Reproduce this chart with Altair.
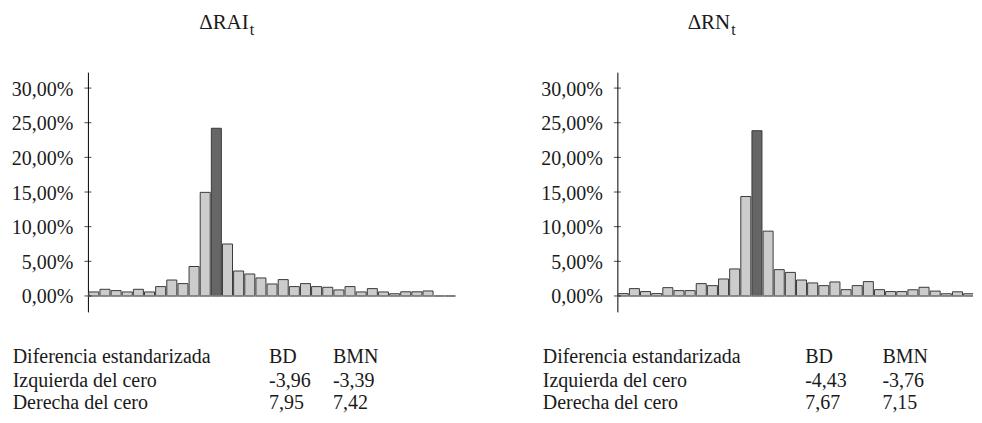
import altair as alt
import pandas as pd

# ---- data ----
rai_pct = [0.58, 0.96, 0.77, 0.58, 0.96, 0.58, 1.35, 2.30, 1.78, 4.25, 14.95, 24.2,
           7.5, 3.6, 3.17, 2.6, 1.73, 2.36, 1.35, 1.78, 1.35, 1.25, 0.87, 1.35,
           0.58, 1.06, 0.58, 0.32, 0.6, 0.6, 0.72, 0.0, 0.0]
rn_pct = [0.34, 1.06, 0.63, 0.34, 1.2, 0.77, 0.77, 1.78, 1.49, 2.45, 3.9, 14.35,
          23.85, 9.35, 3.8, 3.4, 2.3, 1.88, 1.49, 2.02, 0.91, 1.49, 2.07, 0.91,
          0.63, 0.63, 0.89, 1.25, 0.7, 0.32, 0.6, 0.32, 0.0]
rai_peak_bin = 12
rn_peak_bin = 13
y_ticks = [0, 5, 10, 15, 20, 25, 30]

titles = ["\u0394RAI", "\u0394RN"]
title_sub = "t"
table_header = ["Diferencia estandarizada", "BD", "BMN"]
row_labels = ["Izquierda del cero", "Derecha del cero"]
rai_bd = ["-3,96", "7,95"]
rai_bmn = ["-3,39", "7,42"]
rn_bd = ["-4,43", "7,67"]
rn_bmn = ["-3,76", "7,15"]

FONT = "Liberation Serif"
FS = 20
TXT = "#1a1a1a"
PLOT_H = 240
Y_DOM = [-2.3, 32.3]

Y_AXIS = alt.Axis(
    values=y_ticks, ticks=False, tickSize=0, grid=False, title=None,
    labelExpr="replace(format(datum.value, '.2f'), '.', ',') + '%'",
    domainColor="black", domainWidth=1,
    labelFont=FONT, labelFontSize=FS, labelColor=TXT,
    labelPadding=15, labelOffset=1, minExtent=80, maxExtent=80,
)


def txt(s, x, y, size=FS, align="left"):
    return alt.Chart(pd.DataFrame({"t": [s]})).mark_text(
        align=align, baseline="alphabetic", font=FONT, fontSize=size, color=TXT
    ).encode(text="t:N", x=alt.value(x), y=alt.value(y))


def panel(values, peak, title, bd, bmn, width, x_max, title_end, cols):
    df = pd.DataFrame({"bin": list(range(1, len(values) + 1)), "pct": values})
    df["x0"] = df["bin"] - 1 + 0.08
    df["x1"] = df["bin"] - 0.02
    df["peak"] = df["bin"] == peak
    xs = alt.Scale(domain=[0, x_max], nice=False, zero=False)
    ys = alt.Scale(domain=Y_DOM, nice=False, zero=False)

    bars = alt.Chart(df).mark_bar(stroke="#3a3a3a", strokeWidth=1, clip=True).encode(
        x=alt.X("x0:Q", scale=xs, axis=None),
        x2="x1",
        y=alt.Y("pct:Q", scale=ys, title=None, axis=Y_AXIS),
        y2=alt.Y2(datum=0),
        fill=alt.condition("datum.peak", alt.value("#666666"), alt.value("#cccccc")),
    )
    xaxis = alt.Chart(pd.DataFrame({"a": [0]})).mark_rule(
        color="#888888", strokeWidth=1.5
    ).encode(
        x=alt.X(datum=0, scale=xs, axis=None),
        x2=alt.X2(datum=x_max),
        y=alt.Y(datum=0, scale=ys, title=None, axis=Y_AXIS),
    )
    ticks = alt.Chart(pd.DataFrame({"v": y_ticks})).mark_tick(
        color="black", thickness=1, size=7
    ).encode(y=alt.Y("v:Q", scale=ys, title=None, axis=Y_AXIS), x=alt.value(0))
    anchor = alt.Chart(pd.DataFrame({"a": [0]})).mark_rule(
        color="white", strokeWidth=1
    ).encode(x=alt.value(-79.5), y=alt.value(-63.5), y2=alt.value(-60))

    layers = [anchor, bars, xaxis, ticks]
    layers.append(txt(title, title_end, -43, size=21, align="right"))
    layers.append(txt(title_sub, title_end + 1, -37, size=16))
    rows_y = [291, 315, 337]
    cells = [table_header, [row_labels[0], bd[0], bmn[0]], [row_labels[1], bd[1], bmn[1]]]
    for r, row in enumerate(cells):
        for c, s in enumerate(row):
            layers.append(txt(s, cols[c], rows_y[r]))
    return alt.layer(*layers).properties(width=width, height=PLOT_H)


BIN_PX = 368 / 33
left = panel(rai_pct, rai_peak_bin, titles[0], rai_bd, rai_bmn,
             368, 33, 161, [-75.3, 181.3, 245.3])
right = panel(rn_pct, rn_peak_bin, titles[1], rn_bd, rn_bmn,
              356, 356 / BIN_PX, 113, [-74.7, 188, 265.3])

chart = alt.hconcat(left, right, spacing=162, bounds="flush").properties(
    padding={"left": 0, "top": 0, "right": 0, "bottom": 0}
).configure_view(stroke=None)

chart.save("out.html", embed_options={"renderer": "svg", "actions": False})
